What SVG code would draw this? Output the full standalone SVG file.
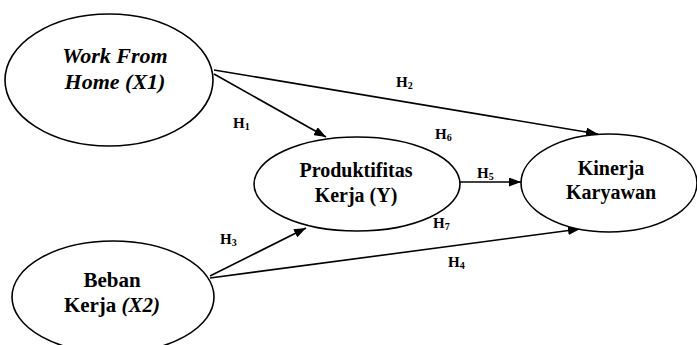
<svg xmlns="http://www.w3.org/2000/svg" width="697" height="345" viewBox="0 0 697 345">
<style>
.node{fill:#fff;stroke:#000;stroke-width:1.6}
.t{font-family:"Liberation Serif","Times New Roman",serif;font-weight:bold;font-size:20px;fill:#000;text-anchor:middle}
.i{font-style:italic}
.big{font-size:22px}
.h{font-family:"Liberation Serif","Times New Roman",serif;font-weight:bold;font-size:15px;fill:#000}
.s{font-size:10px}
.c{stroke:#000;stroke-width:1.6;fill:none;marker-end:url(#ah)}
</style>
<defs>
<marker id="ah" markerUnits="userSpaceOnUse" markerWidth="12" markerHeight="9" refX="12" refY="4.5" orient="auto">
<path d="M0,0 L12,4.5 L0,9 z" fill="#000"/>
</marker>
</defs>
<g id="connectors">
<line class="c" x1="214" y1="74" x2="326" y2="137"/>
<line class="c" x1="214" y1="70" x2="598" y2="134"/>
<line class="c" x1="210" y1="276" x2="306" y2="228"/>
<line class="c" x1="210" y1="278" x2="580" y2="229"/>
<line class="c" x1="460" y1="182" x2="521" y2="182"/>
</g>
<g id="labels">
<text class="h" x="233" y="128">H<tspan class="s" dy="2">1</tspan></text>
<text class="h" x="396" y="87">H<tspan class="s" dy="2">2</tspan></text>
<text class="h" x="220" y="244">H<tspan class="s" dy="2">3</tspan></text>
<text class="h" x="448" y="267">H<tspan class="s" dy="2">4</tspan></text>
<text class="h" x="477" y="178">H<tspan class="s" dy="2">5</tspan></text>
<text class="h" x="435" y="139">H<tspan class="s" dy="2">6</tspan></text>
<text class="h" x="433" y="228">H<tspan class="s" dy="2">7</tspan></text>
</g>
<g id="wfh">
<ellipse class="node" cx="109" cy="80" rx="104" ry="66"/>
<text class="t i big" x="115" y="63">Work From</text>
<text class="t i big" x="115" y="89">Home (X1)</text>
</g>
<g id="beban">
<ellipse class="node" cx="113" cy="297" rx="101" ry="56"/>
<text class="t" x="112" y="287" style="font-size:21px">Beban</text>
<text class="t" x="112" y="312" style="font-size:21px">Kerja <tspan class="i">(X2)</tspan></text>
</g>
<g id="produktifitas">
<ellipse class="node" cx="357" cy="184" rx="103" ry="47"/>
<text class="t" x="356" y="177">Produktifitas</text>
<text class="t" x="356" y="202">Kerja (Y)</text>
</g>
<g id="kinerja">
<ellipse class="node" cx="609" cy="183" rx="88" ry="49"/>
<text class="t" x="611" y="175">Kinerja</text>
<text class="t" x="611" y="199">Karyawan</text>
</g>
</svg>
